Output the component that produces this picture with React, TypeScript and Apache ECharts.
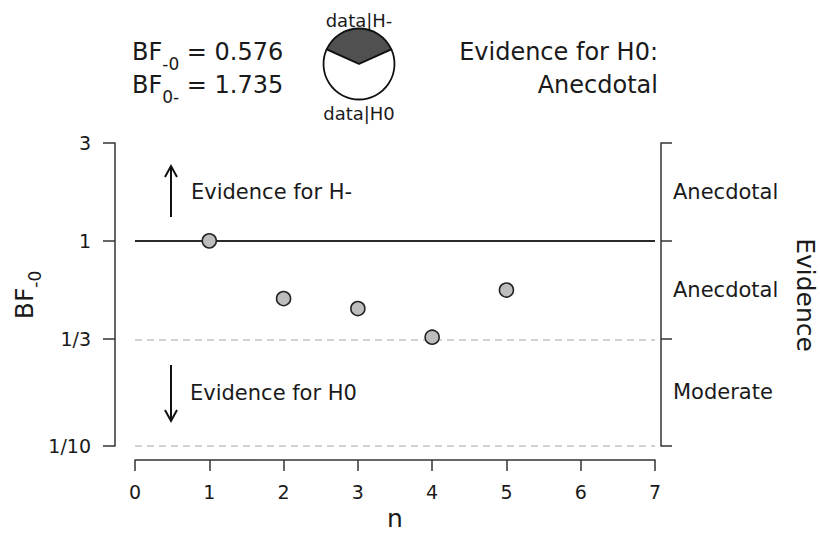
import React, { useEffect, useRef } from 'react';
import * as echarts from 'echarts';

// ---- data ----
const nValues = [1, 2, 3, 4, 5];
const bfValues = [1, 0.523, 0.468, 0.339, 0.576];
const bfTickValues = [0.1, 1 / 3, 1, 3];
const bfTickLabels = ['1/10', '1/3', '1', '3'];
const evidenceBounds = [0.1, 1 / 3, 1, 3];
const evidenceLabels = ['Moderate', 'Anecdotal', 'Anecdotal'];
const dashedRefValues = [3, 1 / 3, 0.1];
const solidRefValue = 1;
const bfMinus0 = 0.576;
const bf0Minus = 1.735;
const evidenceCategory = 'Anecdotal';
const pieLabels = ['data|H-', 'data|H0'];

const FONT = 'DejaVu Sans';
const L = (v: number) => Math.log10(v);

export default function App() {
  const ref = useRef<HTMLDivElement>(null);
  useEffect(() => {
    if (!ref.current) return;
    const chart = echarts.init(ref.current, undefined, { renderer: 'svg' });
    const yMin = L(0.1);
    const yMax = L(3);
    const leftTicks = bfTickValues.map(L);
    const rightTicks = evidenceBounds.map(L);
    const mids = evidenceBounds.slice(0, -1).map((b, i) => (L(b) + L(evidenceBounds[i + 1])) / 2);
    const near = (a: number, b: number) => Math.abs(a - b) < 1e-6;
    const frac = bfMinus0 / (1 + bfMinus0);
    const axisLineStyle = { color: '#333', width: 1.5 };

    const rich = (main: number, sub: number, shift: number) => ({
      m: { fontSize: main, fontFamily: FONT, fill: '#1a1a1a', color: '#1a1a1a' },
      s: { fontSize: sub, fontFamily: FONT, fill: '#1a1a1a', color: '#1a1a1a', padding: [shift, 0, 0, 0] },
    });

    const option: any = {
      animation: false,
      grid: { left: 135, right: 165, top: 143, bottom: 88 },
      xAxis: {
        type: 'value', min: 0, max: 7, interval: 1, offset: 14,
        axisLine: { show: true, onZero: false, lineStyle: axisLineStyle },
        axisTick: { show: true, length: 11, lineStyle: axisLineStyle },
        axisLabel: { fontSize: 19, color: '#1a1a1a', margin: 22, fontFamily: FONT },
        splitLine: { show: false },
      },
      yAxis: [
        {
          type: 'value', min: yMin, max: yMax, position: 'left', offset: 20,
          axisLine: { show: true, onZero: false, lineStyle: axisLineStyle },
          axisTick: { show: true, length: 12, lineStyle: axisLineStyle, customValues: leftTicks },
          axisLabel: {
            customValues: leftTicks, fontSize: 19, color: '#1a1a1a', margin: 24, fontFamily: FONT,
            formatter: (v: number) => {
              const i = leftTicks.findIndex((t) => near(t, v));
              return i >= 0 ? bfTickLabels[i] : '';
            },
          },
          splitLine: { show: false },
        },
        {
          type: 'value', min: yMin, max: yMax, position: 'right', offset: 6,
          axisLine: { show: true, onZero: false, lineStyle: axisLineStyle },
          axisTick: { show: true, length: 11, lineStyle: axisLineStyle, customValues: rightTicks },
          axisLabel: {
            customValues: mids, fontSize: 21, color: '#1a1a1a', margin: 12, fontFamily: FONT,
            formatter: (v: number) => {
              const i = mids.findIndex((t) => near(t, v));
              return i >= 0 ? evidenceLabels[i] : '';
            },
          },
          splitLine: { show: false },
        },
      ],
      series: [
        {
          type: 'line', data: [], silent: true, z: 1,
          markLine: {
            silent: true, symbol: 'none', z: 1, label: { show: false },
            data: [
              ...dashedRefValues.map((v) => ({
                yAxis: L(v),
                lineStyle: { type: [7, 5], color: '#c4c4c4', width: 1.5 },
              })),
              { yAxis: L(solidRefValue), lineStyle: { type: 'solid', color: '#2a2a2a', width: 2.2 } },
            ],
          },
        },
        {
          type: 'scatter', z: 5, symbol: 'circle', symbolSize: 14,
          data: nValues.map((n, i) => [n, L(bfValues[i])]),
          itemStyle: { color: '#bdbdbd', borderColor: '#222', borderWidth: 1.6, opacity: 1 },
          silent: true,
        },
        {
          type: 'pie', center: [359, 64], radius: 35.5, startAngle: 90 + 180 * frac, clockwise: true,
          silent: true, label: { show: false }, labelLine: { show: false },
          emphasis: { disabled: true },
          itemStyle: { borderColor: '#111', borderWidth: 1.8 },
          data: [
            { value: bfMinus0, name: pieLabels[0], itemStyle: { color: '#505050' } },
            { value: 1, name: pieLabels[1], itemStyle: { color: '#ffffff' } },
          ],
        },
      ],
      graphic: [
        {
          type: 'text', x: 132, y: 52,
          style: { text: '{m|BF}{s|-0}{m| = ' + bfMinus0.toFixed(3) + '}', rich: rich(24, 17, 24), textAlign: 'left', textVerticalAlign: 'middle' },
        },
        {
          type: 'text', x: 132, y: 85,
          style: { text: '{m|BF}{s|0-}{m| = ' + bf0Minus.toFixed(3) + '}', rich: rich(24, 17, 24), textAlign: 'left', textVerticalAlign: 'middle' },
        },
        {
          type: 'text', x: 658, y: 52,
          style: { text: 'Evidence for H0:', fontSize: 24, fontFamily: FONT, fill: '#1a1a1a', textAlign: 'right', textVerticalAlign: 'middle' },
        },
        {
          type: 'text', x: 658, y: 85,
          style: { text: evidenceCategory, fontSize: 24, fontFamily: FONT, fill: '#1a1a1a', textAlign: 'right', textVerticalAlign: 'middle' },
        },
        {
          type: 'text', x: 359, y: 20,
          style: { text: pieLabels[0], fontSize: 18, fontFamily: FONT, fill: '#1a1a1a', textAlign: 'center', textVerticalAlign: 'middle' },
        },
        {
          type: 'text', x: 359, y: 113,
          style: { text: pieLabels[1], fontSize: 18, fontFamily: FONT, fill: '#1a1a1a', textAlign: 'center', textVerticalAlign: 'middle' },
        },
        {
          type: 'text', x: 395, y: 518,
          style: { text: 'n', fontSize: 25, fontFamily: FONT, fill: '#1a1a1a', textAlign: 'center', textVerticalAlign: 'middle' },
        },
        {
          type: 'text', x: 24, y: 295, rotation: Math.PI / 2,
          style: { text: '{m|BF}{s|-0}', rich: rich(25, 17, 22), textAlign: 'center', textVerticalAlign: 'middle' },
        },
        {
          type: 'text', x: 805, y: 295, rotation: -Math.PI / 2,
          style: { text: 'Evidence', fontSize: 25, fontFamily: FONT, fill: '#1a1a1a', textAlign: 'center', textVerticalAlign: 'middle' },
        },
        {
          type: 'text', x: 191, y: 192,
          style: { text: 'Evidence for H-', fontSize: 21, fontFamily: FONT, fill: '#1a1a1a', textAlign: 'left', textVerticalAlign: 'middle' },
        },
        {
          type: 'text', x: 190, y: 393,
          style: { text: 'Evidence for H0', fontSize: 21, fontFamily: FONT, fill: '#1a1a1a', textAlign: 'left', textVerticalAlign: 'middle' },
        },
        { type: 'line', shape: { x1: 171, y1: 217, x2: 171, y2: 166 }, style: { stroke: '#111', lineWidth: 2 } },
        { type: 'polyline', shape: { points: [[165, 177], [171, 166], [177, 177]] }, style: { stroke: '#111', lineWidth: 2, fill: 'none' } },
        { type: 'line', shape: { x1: 171, y1: 365, x2: 171, y2: 421 }, style: { stroke: '#111', lineWidth: 2 } },
        { type: 'polyline', shape: { points: [[165, 410], [171, 421], [177, 410]] }, style: { stroke: '#111', lineWidth: 2, fill: 'none' } },
      ],
    };
    chart.setOption(option);
    return () => chart.dispose();
  }, []);
  return (
    <div
      ref={ref}
      style={{ position: 'fixed', left: 0, top: 0, width: 820, height: 534, background: '#fff' }}
    />
  );
}
